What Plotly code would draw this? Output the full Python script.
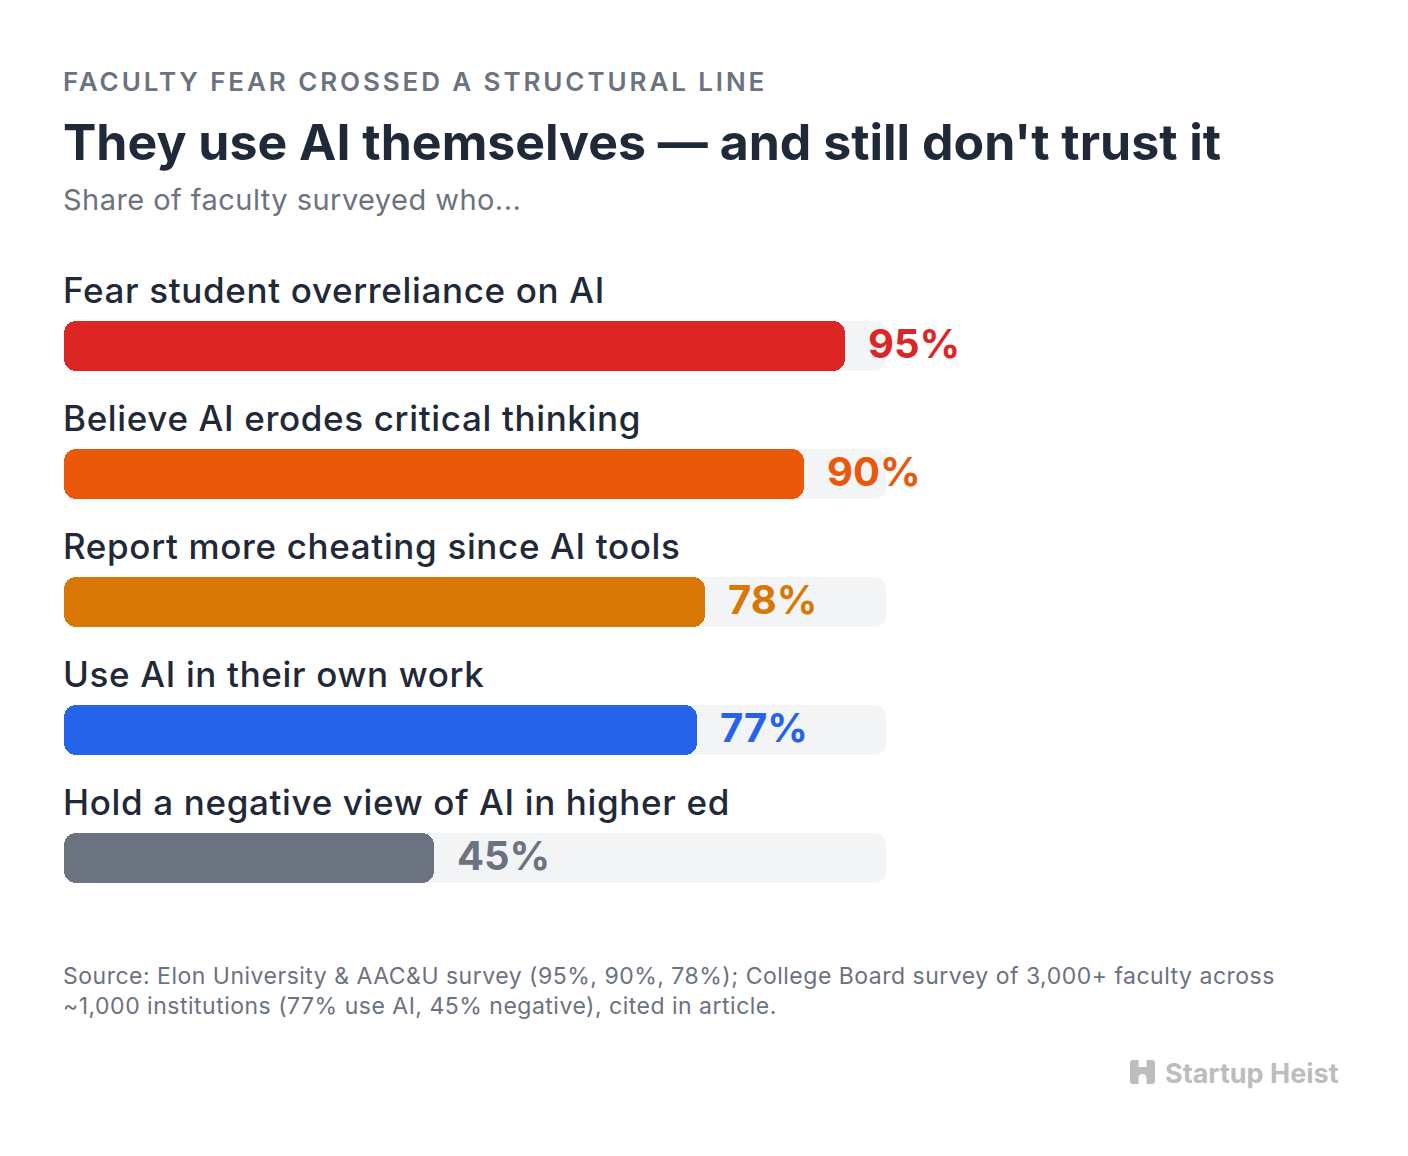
import plotly.graph_objects as go

# ---- data ----
categories = [
    "Fear student overreliance on AI",
    "Believe AI erodes critical thinking",
    "Report more cheating since AI tools",
    "Use AI in their own work",
    "Hold a negative view of AI in higher ed",
]
values = [95, 90, 78, 77, 45]
value_labels = ["95%", "90%", "78%", "77%", "45%"]
bar_colors = ["#DC2626", "#EA580C", "#D97706", "#2563EB", "#6B7280"]
track_max = 100

eyebrow = "FACULTY FEAR CROSSED A STRUCTURAL LINE"
title = "They use AI themselves \u2014 and still don't trust it"
subtitle = "Share of faculty surveyed who..."
source_lines = [
    "Source: Elon University &amp; AAC&amp;U survey (95%, 90%, 78%); College Board survey of 3,000+ faculty across",
    "~1,000 institutions (77% use AI, 45% negative), cited in article.",
]
brand = "Startup Heist"

# ---- layout geometry ----
W, H = 1408, 1156
L = 64
px_per_unit = 8.22          # x: 100% -> 822 px
row_px = 128                # vertical spacing between rows
first_row_px = 345.5
bar_px = 50
FONT = "Inter, 'Noto Sans', sans-serif"

x_range = [0, (W - L) / px_per_unit]
y_top = -first_row_px / row_px
y_bot = (H - first_row_px) / row_px

idx = list(range(len(categories)))


def px(x):
    return (x - L) / (W - L)


def py(y):
    return 1 - y / H


def spaced(txt, ls):
    return f'<span style="letter-spacing:{ls}px">{txt}</span>'


def rounded_bar(fig, vals, colors):
    """Draw bars rounded on both ends: two overlapping halves, each rounded at its outer end."""
    split_l = [v * 0.6 for v in vals]
    split_r = [v * 0.4 for v in vals]
    bw = bar_px / row_px
    fig.add_trace(go.Bar(
        x=[-s for s in split_l], base=split_l, y=idx, orientation="h", width=bw,
        marker=dict(color=colors, cornerradius=12, line=dict(width=0)),
        hoverinfo="skip", showlegend=False,
    ))
    fig.add_trace(go.Bar(
        x=[v - s for v, s in zip(vals, split_r)], base=split_r, y=idx, orientation="h", width=bw,
        marker=dict(color=colors, cornerradius=12, line=dict(width=0)),
        hoverinfo="skip", showlegend=False,
    ))


fig = go.Figure()
rounded_bar(fig, [track_max] * len(categories), ["#F3F4F6"] * len(categories))
rounded_bar(fig, values, bar_colors)

ann = []
for i, (cat, v, lab, c) in enumerate(zip(categories, values, value_labels, bar_colors)):
    ann.append(dict(x=0, y=i, xref="x", yref="y", text=spaced(cat, 0.65), showarrow=False,
                    xanchor="left", yanchor="middle", yshift=56, xshift=-3,
                    font=dict(family=FONT, size=35, color="#1F2937", weight=500)))
    ann.append(dict(x=v, y=i, xref="x", yref="y", text=lab, showarrow=False,
                    xanchor="left", yanchor="middle", xshift=21, yshift=2,
                    font=dict(family=FONT, size=40, color=c, weight=700)))

ann += [
    dict(x=0, y=py(82), xref="paper", yref="paper", text=spaced(eyebrow, 2.9), showarrow=False,
         xanchor="left", yanchor="middle", xshift=-3,
         font=dict(family=FONT, size=26, color="#6B7280", weight=600)),
    dict(x=0, y=py(142), xref="paper", yref="paper", text=title, showarrow=False,
         xanchor="left", yanchor="middle", xshift=-3,
         font=dict(family=FONT, size=50, color="#1F2937", weight=700)),
    dict(x=0, y=py(200), xref="paper", yref="paper", text=spaced(subtitle, 0.45), showarrow=False,
         xanchor="left", yanchor="middle", xshift=-3,
         font=dict(family=FONT, size=29, color="#6B7280")),
    dict(x=0, y=py(991), xref="paper", yref="paper",
         text="<br>".join(spaced(s, 0.5) for s in source_lines), showarrow=False,
         xanchor="left", yanchor="middle", align="left", xshift=-3,
         font=dict(family=FONT, size=23, color="#6B7280")),
    dict(x=px(1338), y=py(1073), xref="paper", yref="paper", text=brand, showarrow=False,
         xanchor="right", yanchor="middle", xshift=3,
         font=dict(family=FONT, size=27, color="#BDBDBD", weight=700)),
]

# brand icon (H-shaped block)
x0, x1, y0, y1 = 1130, 1155, 1060, 1084
nl, nr = 1138.5, 1146.5
icon_path = (
    f"M {px(x0)},{py(y0+3)} Q {px(x0)},{py(y0)} {px(x0+3)},{py(y0)} "
    f"L {px(nl)},{py(y0)} L {px(nl)},{py(1067)} L {px(nr)},{py(1067)} L {px(nr)},{py(y0)} "
    f"L {px(x1-3)},{py(y0)} Q {px(x1)},{py(y0)} {px(x1)},{py(y0+3)} "
    f"L {px(x1)},{py(y1-3)} Q {px(x1)},{py(y1)} {px(x1-3)},{py(y1)} "
    f"L {px(nr)},{py(y1)} L {px(nr)},{py(1078)} Q {px(nr)},{py(1074)} {px((nl+nr)/2)},{py(1074)} "
    f"Q {px(nl)},{py(1074)} {px(nl)},{py(1078)} L {px(nl)},{py(y1)} "
    f"L {px(x0+3)},{py(y1)} Q {px(x0)},{py(y1)} {px(x0)},{py(y1-3)} Z"
)

fig.update_layout(
    width=W, height=H,
    margin=dict(l=L, r=0, t=0, b=0),
    paper_bgcolor="white", plot_bgcolor="white",
    barmode="overlay", bargap=0,
    xaxis=dict(range=x_range, visible=False, fixedrange=True),
    yaxis=dict(range=[y_bot, y_top], visible=False, fixedrange=True),
    annotations=ann,
    shapes=[dict(type="path", path=icon_path, xref="paper", yref="paper",
                 fillcolor="#BDBDBD", line=dict(width=0), layer="above")],
    showlegend=False,
)

fig.write_html("out.html", config={"displayModeBar": False})
